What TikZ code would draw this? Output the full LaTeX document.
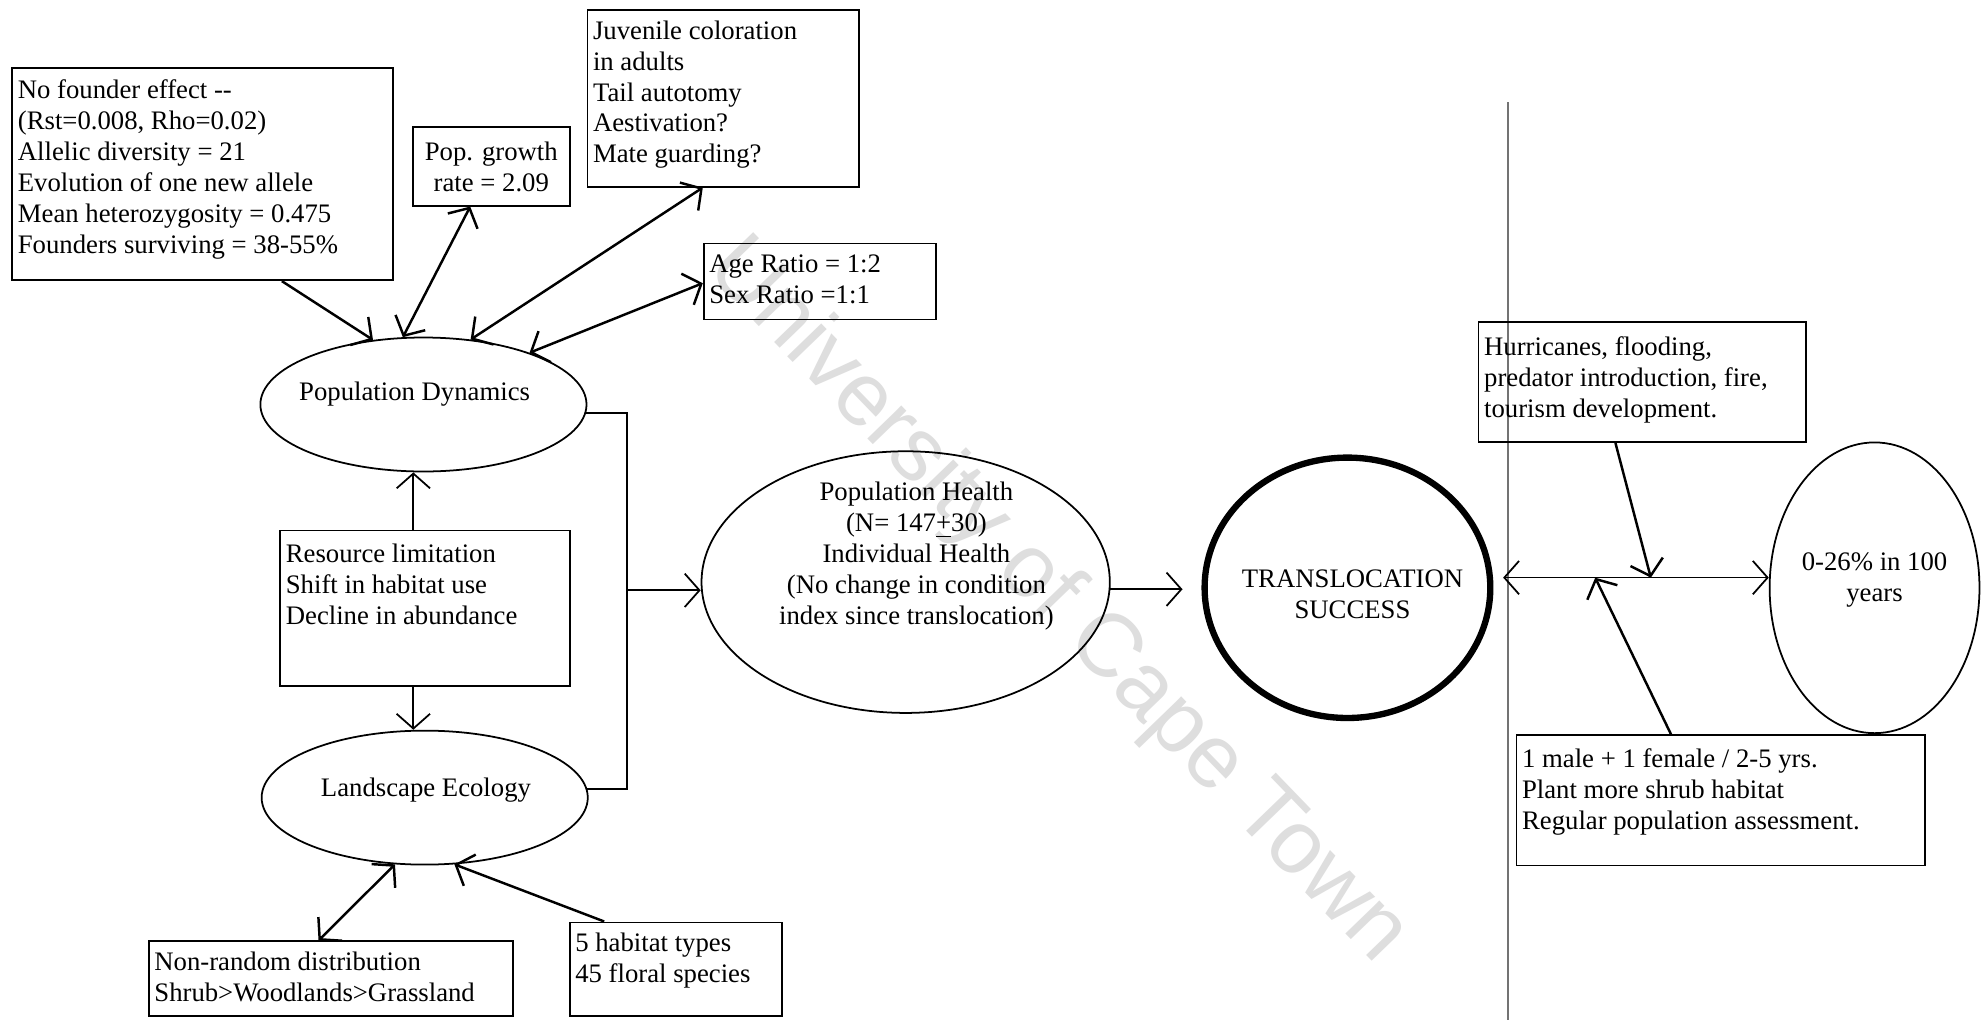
\documentclass[tikz,border=0pt]{standalone}
\usepackage{fontspec}
\setmainfont{Liberation Serif}
\newfontfamily\wmfont{Liberation Sans}
\usetikzlibrary{shapes.geometric,arrows.meta}
\newlength\upx
\setlength\upx{0.01264cm}
\newcommand\bxt[4]{\parbox[c][#2\upx][t]{#1\upx}{\raggedright\leftskip=1.6pt\relax\vspace*{#3}\strut#4}}
\newcommand\cbxt[3]{\parbox[c][#2\upx][c]{#1\upx}{\centering#3}}
\tikzset{barb/.tip={Straight Barb[length=4.2pt,width=9.5pt]}}
\begin{document}
\begin{tikzpicture}[x=0.01264cm,y=-0.01264cm,
  font=\fontsize{7.6}{8.8}\selectfont,
  box/.style={draw, rectangle, line width=0.5pt, inner sep=0pt, anchor=north west},
  oval/.style={draw, ellipse, line width=0.5pt, inner sep=0pt},
  conn/.style={line width=0.7pt},
  arr/.style={conn,-{barb}},
  dbl/.style={conn,{barb}-{barb}},
  elbow/.style={line width=0.5pt},
  lbl/.style={align=center, inner sep=0pt}]
\useasboundingbox (0,0) rectangle (1568,807);
\fill[white] (0,0) rectangle (1568,807);

% watermark
\node[rotate=-46, text=black!13, font=\wmfont\fontsize{25.5}{26}\selectfont, inner sep=0pt] (wm) at (836,476) {University of Cape Town};

% page fold line
\draw[black!55, line width=0.5pt] (1193,81) -- (1193,807);

% boxes
\node[box] (founder) at (9,53) {\bxt{301}{168}{2.6pt}{No founder effect -{}-\\(Rst=0.008, Rho=0.02)\\Allelic diversity = 21\\Evolution of one new allele\\Mean heterozygosity = 0.475\\Founders surviving = 38-55\%}};
\node[box] (growth) at (326,100) {\cbxt{124}{62}{Pop. growth\\rate = 2.09}};
\node[box] (juv) at (464,7) {\bxt{215}{140}{2.2pt}{Juvenile coloration\\in adults\\Tail autotomy\\Aestivation?\\Mate guarding?}};
\node[box] (age) at (556,192) {\bxt{184}{60}{2.2pt}{Age Ratio = 1:2\\Sex Ratio =1:1}};
\node[box] (limit) at (221,419) {\bxt{229}{123}{2.9pt}{Resource limitation\\Shift in habitat use\\Decline in abundance}};
\node[box] (nonr) at (117,744) {\bxt{288}{59}{2.2pt}{Non-random distribution\\Shrub>Woodlands>Grassland}};
\node[box] (hab) at (450,729) {\bxt{168}{74}{2.2pt}{5 habitat types\\45 floral species}};
\node[box] (hurr) at (1169,254) {\bxt{259}{95}{3.4pt}{Hurricanes, flooding,\\predator introduction, fire,\\tourism development.}};
\node[box] (mgmt) at (1199,581) {\bxt{323}{103}{2.9pt}{1 male + 1 female / 2-5 yrs.\\Plant more shrub habitat\\Regular population assessment.}};

% ellipses
\node[oval, minimum width=258\upx, minimum height=106\upx] (PD) at (335,320) {};
\node[lbl] (PDt) at (328,312) {Population Dynamics};
\node[oval, minimum width=258\upx, minimum height=106\upx] (LE) at (336,631) {};
\node[lbl] (LEt) at (337,625) {Landscape Ecology};
\node[oval, minimum width=323\upx, minimum height=207\upx] (PH) at (716.5,460.5) {};
\node[lbl] (PHt) at (725,440) {Population Health\\(N= 147\underline{+}30)\\Individual Health\\(No change in condition\\index since translocation)};
\node[oval, line width=1.8pt, minimum width=226\upx, minimum height=206\upx] (TS) at (1066,465) {};
\node[lbl] (TSt) at (1070,470) {TRANSLOCATION\\SUCCESS};
\node[oval, minimum width=166\upx, minimum height=230\upx] (outcome) at (1483,465) {};
\node[lbl] (outt) at (1483,459) {0-26\% in 100\\years};

% connectors
\draw[arr] ([xshift=214\upx]founder.south west) -- (PD.128);
\draw[dbl] ([xshift=46\upx]growth.south west) -- (PD.107);
\draw[dbl] ([xshift=92\upx]juv.south west) -- (PD.54);
\draw[dbl] ([yshift=-32\upx]age.north west) -- (PD.26);
\coordinate (limtop) at ([xshift=106\upx]limit.north west);
\coordinate (limbot) at ([xshift=106\upx]limit.south west);
\draw[elbow,-{barb}] (limtop) -- (limtop |- PD.south);
\draw[elbow,-{barb}] (limbot) -- (limbot |- LE.north);
\coordinate (nrtop) at ([xshift=135\upx]nonr.north west);
\draw[dbl] (nrtop) -- (LE.-114);
\coordinate (habtop) at ([xshift=28\upx]hab.north west);
\draw[arr] (habtop) -- (LE.-66);
\coordinate (jx) at (496,467);
\draw[elbow] (PD.-3) -| (jx) |- (LE.3);
\draw[elbow,-{barb}] (jx) -- (jx -| PH.west);
\draw[elbow,-{barb}, shorten >=15\upx] (PH.-2) -- (PH.-2 -| TS.west);
\draw[elbow,{barb}-{barb}, shorten <=8\upx] (TS.4) -- (TS.4 -| outcome.west);
\coordinate (hbot) at ([xshift=109\upx]hurr.south west);
\coordinate (htip) at (1306,457);
\draw[arr] (hbot) -- (htip);
\coordinate (mtop) at ([xshift=123\upx]mgmt.north west);
\coordinate (mtip) at (1262,457);
\draw[arr] (mtop) -- (mtip);
\end{tikzpicture}
\end{document}
